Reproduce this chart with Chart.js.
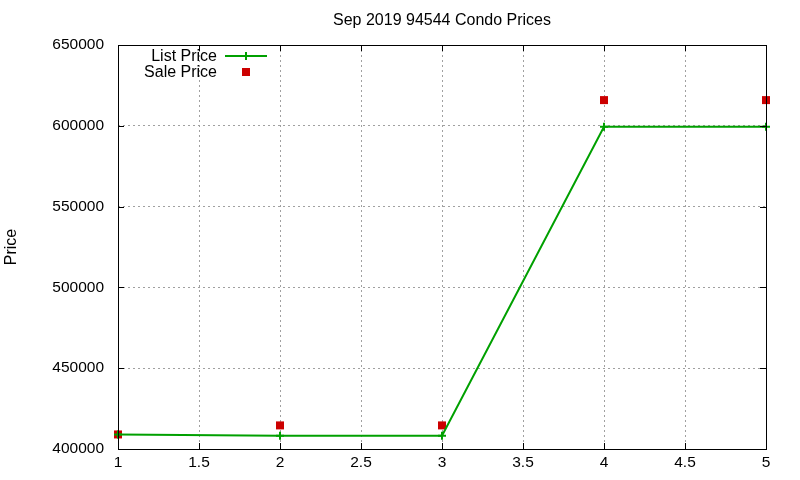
<!DOCTYPE html>
<html>
<head>
<meta charset="utf-8">
<script src="https://cdn.jsdelivr.net/npm/chart.js@4.4.0/dist/chart.umd.min.js"></script>
<style>
  html, body { margin: 0; padding: 0; background: #fff; }
</style>
</head>
<body>
<canvas id="chart" width="800" height="480"></canvas>
<script>
// values
const salesIndex = [1, 2, 3, 4, 5];
const listPrice = [409000, 408200, 408200, 599400, 599400];
const salePrice = [409000, 414600, 414600, 615900, 615900];
const chartTitle = 'Sep 2019 94544 Condo Prices';
const seriesNames = ['List Price', 'Sale Price'];

const GREEN = '#00a000';
const RED = '#cc0000';
const FONT = '"Liberation Sans", Arial, sans-serif';

// gnuplot style frame, inward ticks, title and legend
const gnuplotFrame = {
    id: 'gnuplotFrame',
    afterDraw(chart) {
        const { ctx, chartArea: a, scales } = chart;
        ctx.save();
        ctx.strokeStyle = '#000';
        ctx.lineWidth = 1;
        ctx.beginPath();
        const tl = 6;
        scales.x.ticks.forEach(t => {
            const px = Math.round(scales.x.getPixelForValue(t.value)) + 0.5;
            ctx.moveTo(px, a.bottom); ctx.lineTo(px, a.bottom - tl);
            ctx.moveTo(px, a.top); ctx.lineTo(px, a.top + tl);
        });
        scales.y.ticks.forEach(t => {
            const py = Math.round(scales.y.getPixelForValue(t.value)) + 0.5;
            ctx.moveTo(a.left, py); ctx.lineTo(a.left + tl, py);
            ctx.moveTo(a.right, py); ctx.lineTo(a.right - tl, py);
        });
        ctx.stroke();
        ctx.strokeRect(Math.round(a.left) + 0.5, Math.round(a.top) + 0.5,
            Math.round(a.right - a.left), Math.round(a.bottom - a.top));

        // title
        ctx.fillStyle = '#000';
        ctx.font = '16px ' + FONT;
        ctx.textAlign = 'center';
        ctx.textBaseline = 'middle';
        ctx.fillText(chartTitle, (a.left + a.right) / 2, 21);

        // legend
        ctx.textAlign = 'right';
        ctx.fillText(seriesNames[0], 217, 56.5);
        ctx.fillText(seriesNames[1], 217, 72.5);
        ctx.strokeStyle = GREEN;
        ctx.lineWidth = 2;
        ctx.beginPath();
        ctx.moveTo(225, 56); ctx.lineTo(267, 56);
        ctx.moveTo(246, 52); ctx.lineTo(246, 60);
        ctx.stroke();
        ctx.fillStyle = RED;
        ctx.fillRect(242, 68, 8, 8);
        ctx.restore();
    }
};

new Chart(document.getElementById('chart'), {
    type: 'scatter',
    data: {
        datasets: [{
            label: seriesNames[0],
            data: salesIndex.map((x, i) => ({ x: x, y: listPrice[i] })),
            showLine: true,
            borderColor: GREEN,
            backgroundColor: GREEN,
            borderWidth: 2,
            pointStyle: 'cross',
            pointRadius: 4,
            pointBorderWidth: 2,
            clip: false
        }, {
            label: seriesNames[1],
            data: salesIndex.map((x, i) => ({ x: x, y: salePrice[i] })),
            showLine: false,
            backgroundColor: RED,
            borderColor: RED,
            pointStyle: 'rect',
            pointRadius: 5.66,
            pointBorderWidth: 0,
            clip: false
        }]
    },
    options: {
        responsive: false,
        animation: false,
        layout: { padding: { top: 45, right: 34, left: 0, bottom: 0 } },
        plugins: {
            legend: { display: false },
            title: { display: false },
            tooltip: { enabled: false }
        },
        scales: {
            x: {
                type: 'linear',
                min: 1,
                max: 5,
                ticks: {
                    stepSize: 0.5,
                    color: '#000',
                    font: { family: FONT, size: 15.5 },
                    padding: 4,
                    maxRotation: 0,
                    callback: v => String(v)
                },
                grid: { color: '#a0a0a0', drawTicks: false },
                border: { display: false, dash: [2, 3] },
                afterFit: s => { s.height = 31; }
            },
            y: {
                min: 400000,
                max: 650000,
                ticks: {
                    stepSize: 50000,
                    color: '#000',
                    font: { family: FONT, size: 15.5 },
                    padding: 14,
                    callback: v => String(v)
                },
                grid: { color: '#a0a0a0', drawTicks: false },
                border: { display: false, dash: [2, 3] },
                title: {
                    display: true,
                    text: 'Price',
                    color: '#000',
                    font: { family: FONT, size: 16 },
                    padding: { top: 2, bottom: 0 }
                },
                afterFit: s => { s.width = 118; }
            }
        }
    },
    plugins: [gnuplotFrame]
});
</script>
</body>
</html>
